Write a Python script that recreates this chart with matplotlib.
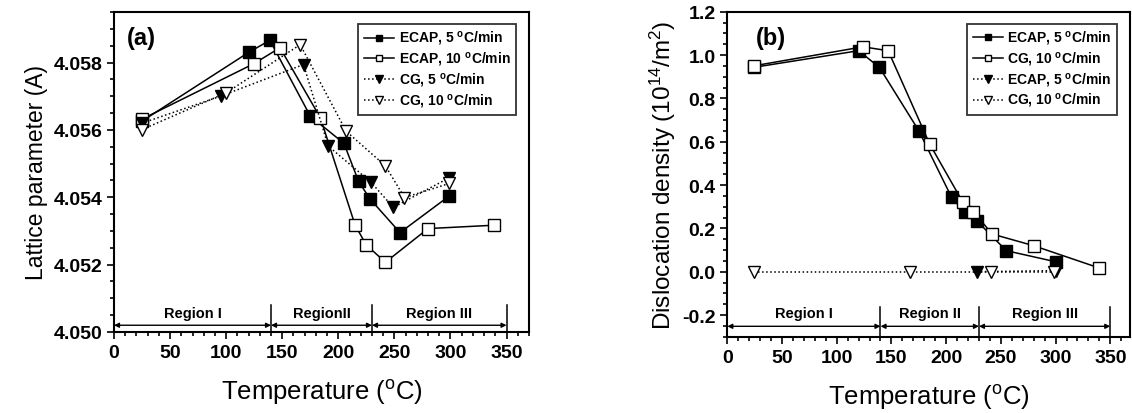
import matplotlib
matplotlib.use("Agg")
from matplotlib import pyplot as plt
from matplotlib.ticker import MultipleLocator, FormatStrFormatter

plt.rcParams['font.family'] = ['Liberation Sans', 'DejaVu Sans']
plt.rcParams['font.weight'] = 'bold'
plt.rcParams['mathtext.default'] = 'regular'

# (a) lattice parameter
ecap5_T = [25, 120, 139, 175, 205, 218, 228, 255, 299]
ecap5_a = [4.05626, 4.05830, 4.05866, 4.05641, 4.05560, 4.05448, 4.05396, 4.05295, 4.05404]
ecap10_T = [25, 125, 148, 184, 215, 225, 242, 280, 339]
ecap10_a = [4.05632, 4.05797, 4.05844, 4.05636, 4.05317, 4.05258, 4.05207, 4.05307, 4.05317]
cg5_T = [25, 95, 169, 191, 229, 249, 299]
cg5_a = [4.05620, 4.05700, 4.05794, 4.05552, 4.05445, 4.05370, 4.05458]
cg10_T = [25, 100, 166, 207, 242, 259, 299]
cg10_a = [4.05601, 4.05710, 4.05853, 4.05596, 4.05493, 4.05399, 4.05441]

# (b) dislocation density
b_ecap5_T = [24, 120, 139, 175, 205, 217, 228, 255, 300]
b_ecap5_d = [0.943, 1.020, 0.943, 0.651, 0.343, 0.274, 0.235, 0.097, 0.046]
b_cg10_T = [24, 124, 147, 185, 215, 225, 242, 280, 340]
b_cg10_d = [0.950, 1.038, 1.020, 0.589, 0.323, 0.277, 0.174, 0.120, 0.017]
b_ecap5z_T = [228, 300]
b_ecap5z_d = [0.0, 0.005]
b_cg10z_T = [24, 167, 241, 299]
b_cg10z_d = [0.0, 0.0, 0.0, 0.0]

region_edges = [0, 140, 230, 350]
region_names_a = ['Region I', 'RegionII', 'Region III']
region_names_b = ['Region I', 'Region II', 'Region III']

fig = plt.figure(figsize=(11.32, 4.14), dpi=100)
ax1 = fig.add_axes([0.1007, 0.1957, 0.3666, 0.7729])
ax2 = fig.add_axes([0.6425, 0.1843, 0.3557, 0.785])

ms = 8
lw = 1.1
ax1.plot(ecap5_T, ecap5_a, '-s', color='k', mfc='k', ms=ms, lw=lw, label='ECAP, 5 $^o$C/min')
ax1.plot(ecap10_T, ecap10_a, '-s', color='k', mfc='white', ms=ms, lw=lw, label='ECAP, 10 $^o$C/min')
ax1.plot(cg5_T, cg5_a, ':v', color='k', mfc='k', ms=ms + 1, lw=lw, label='CG, 5 $^o$C/min')
ax1.plot(cg10_T, cg10_a, ':v', color='k', mfc='white', ms=ms + 1, lw=lw, label='CG, 10 $^o$C/min')

ax2.plot(b_ecap5_T, b_ecap5_d, '-s', color='k', mfc='k', ms=ms, lw=lw, label='ECAP, 5 $^o$C/min')
ax2.plot(b_cg10_T, b_cg10_d, '-s', color='k', mfc='white', ms=ms, lw=lw, label='CG, 10 $^o$C/min')
ax2.plot(b_ecap5z_T, b_ecap5z_d, ':v', color='k', mfc='k', ms=ms + 1, lw=lw, label='ECAP, 5 $^o$C/min')
ax2.plot(b_cg10z_T, b_cg10z_d, ':v', color='k', mfc='white', ms=ms + 1, lw=lw, label='CG, 10 $^o$C/min')


def regions(ax, y_arrow, y_top, y_label, names):
    ybot = ax.get_ylim()[0]
    for x in region_edges[1:]:
        ax.plot([x, x], [ybot, y_top], color='k', lw=1.1)
    for i, name in enumerate(names):
        x0, x1 = region_edges[i], region_edges[i + 1]
        ax.annotate('', xy=(x1, y_arrow), xytext=(x0, y_arrow),
                    arrowprops=dict(arrowstyle='<|-|>', color='k', lw=1.0,
                                    mutation_scale=7, shrinkA=0, shrinkB=0))
        ax.text((x0 + x1) / 2, y_label, name, ha='center', va='bottom', fontsize=10.5)


ax1.set_xlim(0, 370)
ax1.set_ylim(4.050, 4.0595)
ax2.set_xlim(0, 368)
ax2.set_ylim(-0.3, 1.2)

regions(ax1, 4.0502, 4.0508, 4.05035, region_names_a)
regions(ax2, -0.252, -0.165, -0.225, region_names_b)

for ax in (ax1, ax2):
    ax.xaxis.set_major_locator(MultipleLocator(50))
    ax.xaxis.set_minor_locator(MultipleLocator(10))
    ax.tick_params(which='both', direction='out', labelsize=14, width=1.2,
                   top=False, right=False)
    ax.tick_params(which='major', length=5)
    ax.tick_params(which='minor', length=3)
    for s in ax.spines.values():
        s.set_linewidth(1.5)
    ax.set_xlabel('Temperature ($^o$C)', fontsize=18.5, labelpad=12)
    for t in ax.get_xticklabels() + ax.get_yticklabels():
        t.set_fontweight('bold')

ax1.yaxis.set_major_locator(MultipleLocator(0.002))
ax1.yaxis.set_minor_locator(MultipleLocator(0.0005))
ax1.yaxis.set_major_formatter(FormatStrFormatter('%.3f'))
ax2.yaxis.set_major_locator(MultipleLocator(0.2))
ax2.yaxis.set_minor_locator(MultipleLocator(0.05))
ax2.yaxis.set_major_formatter(FormatStrFormatter('%.1f'))

ax1.set_ylabel('Lattice parameter (A)', fontsize=16.5, labelpad=4)
ax2.set_ylabel('Dislocation density (10$^{14}$/m$^2$)', fontsize=17.5, labelpad=3)

ax1.text(0.03, 0.955, '(a)', transform=ax1.transAxes, fontsize=17, va='top')
ax2.text(0.07, 0.955, '(b)', transform=ax2.transAxes, fontsize=17, va='top')

for ax in (ax1, ax2):
    leg = ax.legend(loc='upper right', fontsize=10, frameon=True, fancybox=False,
                    edgecolor='k', handlelength=2.2, handletextpad=0.3,
                    labelspacing=0.2, borderpad=0.4, markerscale=0.6,
                    bbox_to_anchor=(0.985, 0.985))
    leg.get_frame().set_linewidth(1.3)

fig.savefig('out.png', dpi=100)
